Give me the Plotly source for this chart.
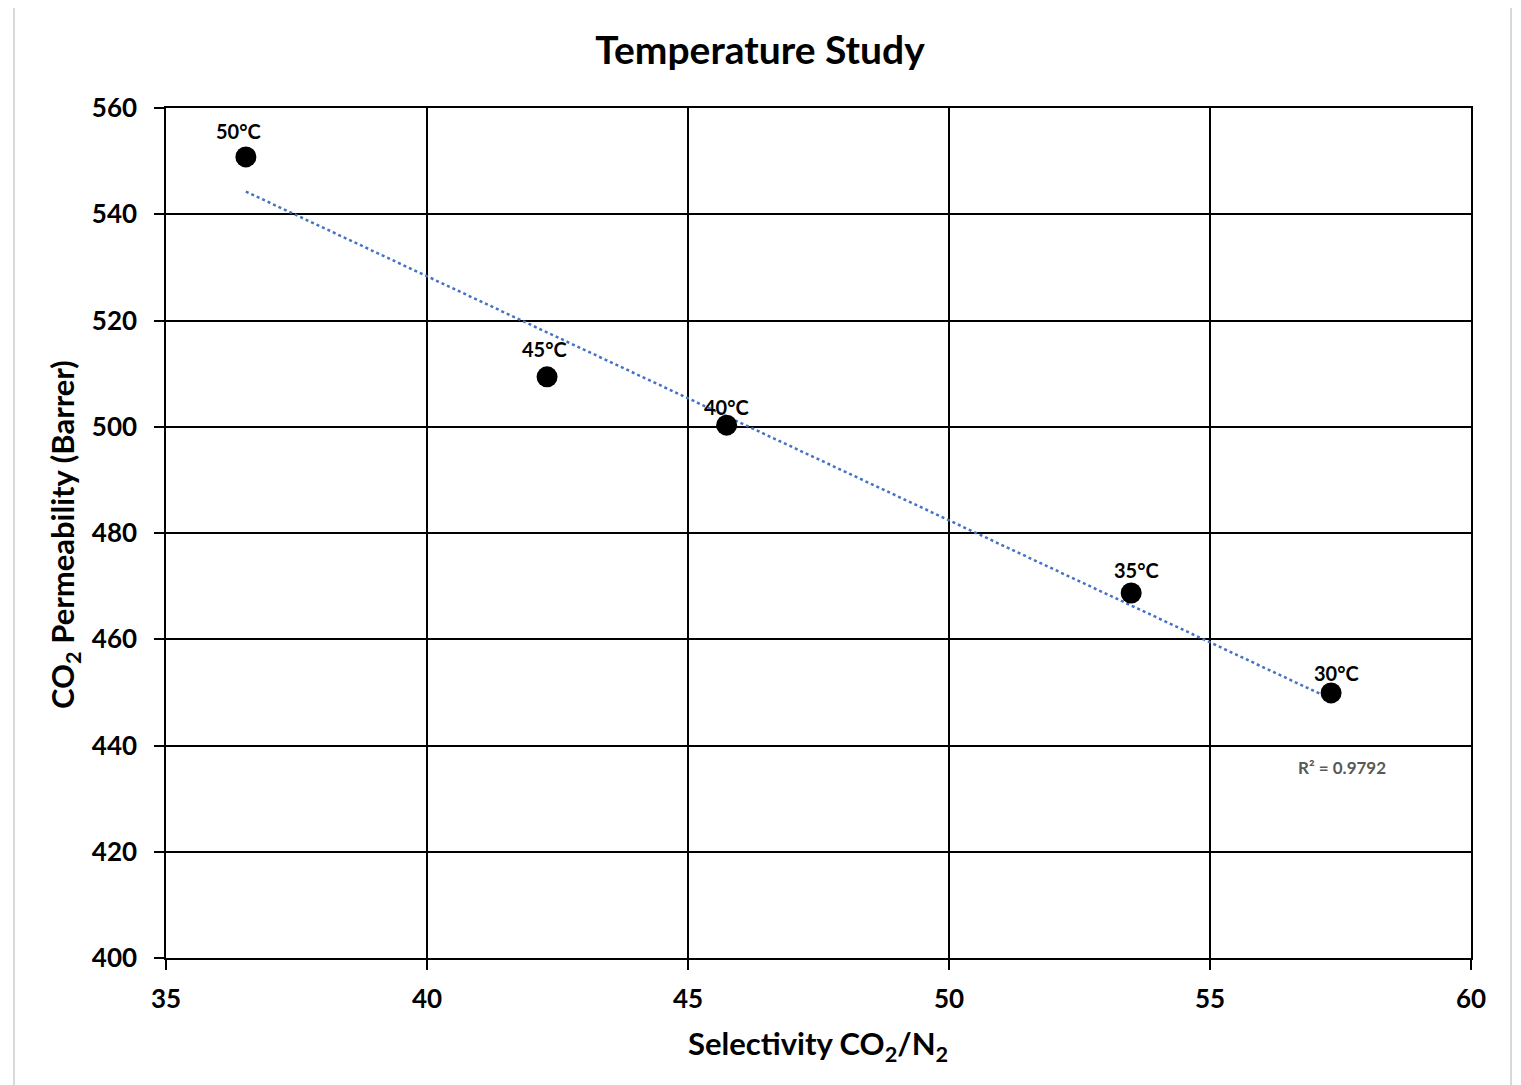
import numpy as np
import plotly.graph_objects as go

# Data
temperatures = ["50°C", "45°C", "40°C", "35°C", "30°C"]
selectivity = [36.53, 42.30, 45.74, 53.49, 57.32]
permeability = [550.8, 509.4, 500.3, 468.7, 449.9]
x_ticks = [35, 40, 45, 50, 55, 60]
y_ticks = [400, 420, 440, 460, 480, 500, 520, 540, 560]
r2_label = "R² = 0.9792"

# Style: pixel offsets of the data labels from their points
label_dx = [-7, -3, 0, 5, 5]
label_dy = [26, 28, 18, 23, 20]

FONT = "Lato"

# Linear trendline from data
slope, intercept = np.polyfit(selectivity, permeability, 1)
tx = [min(selectivity), max(selectivity)]
ty = [slope * v + intercept for v in tx]

fig = go.Figure()
fig.add_trace(go.Scatter(
    x=tx, y=ty, mode="lines",
    line=dict(color="#4472C4", width=2.5, dash="dot"),
    hoverinfo="skip", showlegend=False,
))
fig.add_trace(go.Scatter(
    x=selectivity, y=permeability, mode="markers",
    marker=dict(color="black", size=21),
    showlegend=False,
))
for t, xv, yv, dx, dy in zip(temperatures, selectivity, permeability, label_dx, label_dy):
    fig.add_annotation(
        text=t, x=xv, y=yv, xref="x", yref="y", showarrow=False,
        xanchor="center", yanchor="middle", xshift=dx, yshift=dy,
        font=dict(family=FONT, size=20, color="black", weight="bold"),
    )

W, H = 1513, 1077  # page has an 8px body margin
fig.update_layout(
    width=W, height=H,
    margin=dict(l=158, r=50, t=100, b=127),
    paper_bgcolor="white", plot_bgcolor="white",
    showlegend=False,
    title=dict(
        text="Temperature Study", x=(760 - 8) / W, xref="container", xanchor="center",
        y=1 - 42 / H, yref="container", yanchor="middle",
        font=dict(family=FONT, size=39, color="black", weight="bold"),
    ),
)
fig.update_xaxes(
    range=[35, 60], tickvals=x_ticks, ticks="outside", ticklen=10,
    tickcolor="black", tickwidth=1.5,
    showgrid=True, gridcolor="black", gridwidth=1.5,
    showline=True, linecolor="black", linewidth=1.5, mirror=True,
    zeroline=False,
    tickfont=dict(family=FONT, size=26, color="black", weight="bold"),
    ticklabelstandoff=7,
)
fig.update_yaxes(
    range=[400, 560], tickvals=y_ticks, ticks="outside", ticklen=10,
    tickcolor="black", tickwidth=1.5,
    showgrid=True, gridcolor="black", gridwidth=1.5,
    showline=True, linecolor="black", linewidth=1.5, mirror=True,
    zeroline=False,
    tickfont=dict(family=FONT, size=26, color="black", weight="bold"),
    ticklabelstandoff=12,
)

# Axis titles
fig.add_annotation(
    text="Selectivity CO<sub>2</sub>/N<sub>2</sub>",
    xref="paper", yref="paper", x=(818 - 166) / 1305, y=-(1045 - 958) / 850,
    xanchor="center", yanchor="middle", showarrow=False,
    font=dict(family=FONT, size=31, color="black", weight="bold"),
)
fig.add_annotation(
    text="CO<sub>2</sub> Permeability (Barrer)",
    xref="paper", yref="paper", x=-(166 - 64) / 1305, y=(958 - 535) / 850,
    xanchor="center", yanchor="middle", textangle=-90, showarrow=False,
    font=dict(family=FONT, size=31, color="black", weight="bold"),
)
# R² label
fig.add_annotation(
    text=r2_label, xref="paper", yref="paper",
    x=(1342 - 166) / 1305, y=(958 - 767) / 850,
    xanchor="center", yanchor="middle", showarrow=False,
    font=dict(family=FONT, size=17, color="#595959", weight="bold"),
)

# Chart frame (light gray border)
fig.add_shape(
    type="rect", xref="paper", yref="paper",
    x0=(14 - 166) / 1305, x1=(1511 - 166) / 1305,
    y0=(958 - 1100) / 850, y1=(958 - 6) / 850,
    line=dict(color="#d9d9d9", width=2), layer="below",
)

fig.write_html("out.html")
